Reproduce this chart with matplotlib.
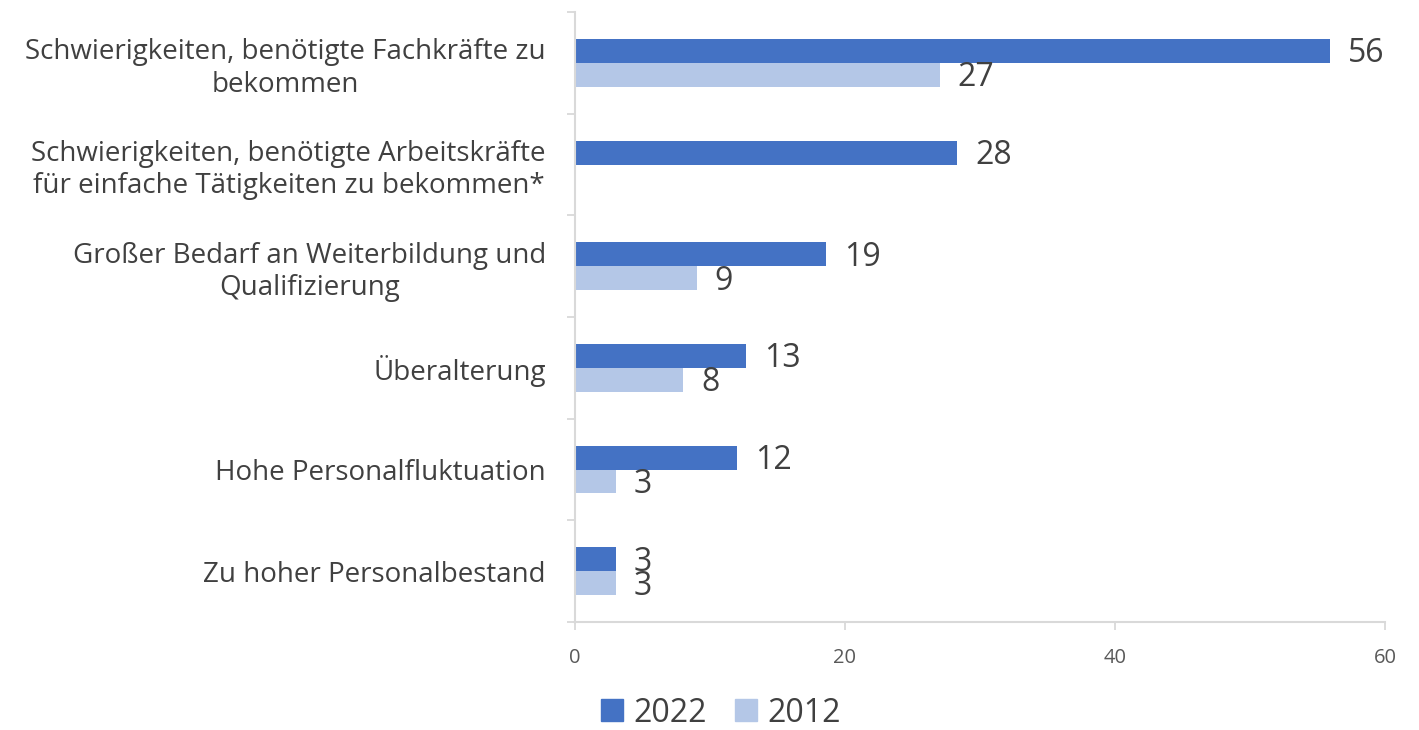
import numpy as np
import matplotlib
matplotlib.use("Agg")
import matplotlib.pyplot as plt
from matplotlib.patches import Patch

plt.rcParams['font.family'] = ['Open Sans', 'DejaVu Sans']

categories = [
    "Schwierigkeiten, benötigte Fachkräfte zu\nbekommen",
    "Schwierigkeiten, benötigte Arbeitskräfte\nfür einfache Tätigkeiten zu bekommen*",
    "Großer Bedarf an Weiterbildung und\nQualifizierung",
    "Überalterung",
    "Hohe Personalfluktuation",
    "Zu hoher Personalbestand",
]
values_2022 = [55.9, 28.3, 18.6, 12.7, 12.0, 3.0]
values_2012 = [27.0, np.nan, 9.0, 8.0, 3.0, 3.0]
labels_2022 = ["56", "28", "19", "13", "12", "3"]
labels_2012 = ["27", "", "9", "8", "3", "3"]
xticks = [0, 20, 40, 60]

c2022 = "#4472C4"
c2012 = "#B4C7E7"
txt = "#404040"

fig = plt.figure(figsize=(14.19, 7.30), dpi=100)
ax = fig.add_axes([575/1419, 1-622/730, 810/1419, 610/730])

y = np.arange(len(categories))
h = 0.236
b1 = ax.barh(y - h/2, values_2022, height=h, color=c2022, label="2022")
b2 = ax.barh(y + h/2, np.nan_to_num(values_2012), height=h, color=c2012, label="2012")

for bars, labs in ((b1, labels_2022), (b2, labels_2012)):
    for rect, lab in zip(bars, labs):
        if lab:
            ax.annotate(lab, (rect.get_width(), rect.get_y() + rect.get_height()/2),
                        xytext=(18, -3), textcoords="offset pixels",
                        ha="left", va="center", fontsize=23, color=txt)

ax.set_xlim(0, 60)
ax.set_ylim(len(categories) - 0.5, -0.5)
ax.set_xticks(xticks)
ax.set_xticklabels([str(t) for t in xticks], fontsize=14.5, color="#595959")
ax.tick_params(axis="x", length=6, width=1.3, color="#D9D9D9", pad=13, direction="out")

ax.set_yticks(y)
ax.set_yticklabels(categories, fontsize=20, color=txt, ha="right", multialignment="center")
ax.tick_params(axis="y", which="major", length=0, pad=21)
ax.set_yticks(np.arange(-0.5, len(categories)), minor=True)
ax.tick_params(axis="y", which="minor", length=6, width=1.3, color="#D9D9D9", direction="out")

for s in ["top", "right"]:
    ax.spines[s].set_visible(False)
for s in ["left", "bottom"]:
    ax.spines[s].set_color("#D9D9D9")
    ax.spines[s].set_linewidth(1.5)

handles = [Patch(color=c2022, label="2022"), Patch(color=c2012, label="2012")]
fig.legend(handles=handles, loc="center", bbox_to_anchor=(721/1419, 1-713/730),
           ncol=2, frameon=False, fontsize=23, labelcolor=txt,
           handlelength=0.69, handleheight=0.69, handletextpad=0.34, columnspacing=0.87,
           borderpad=0, borderaxespad=0)

fig.savefig("out.png", dpi=100)
